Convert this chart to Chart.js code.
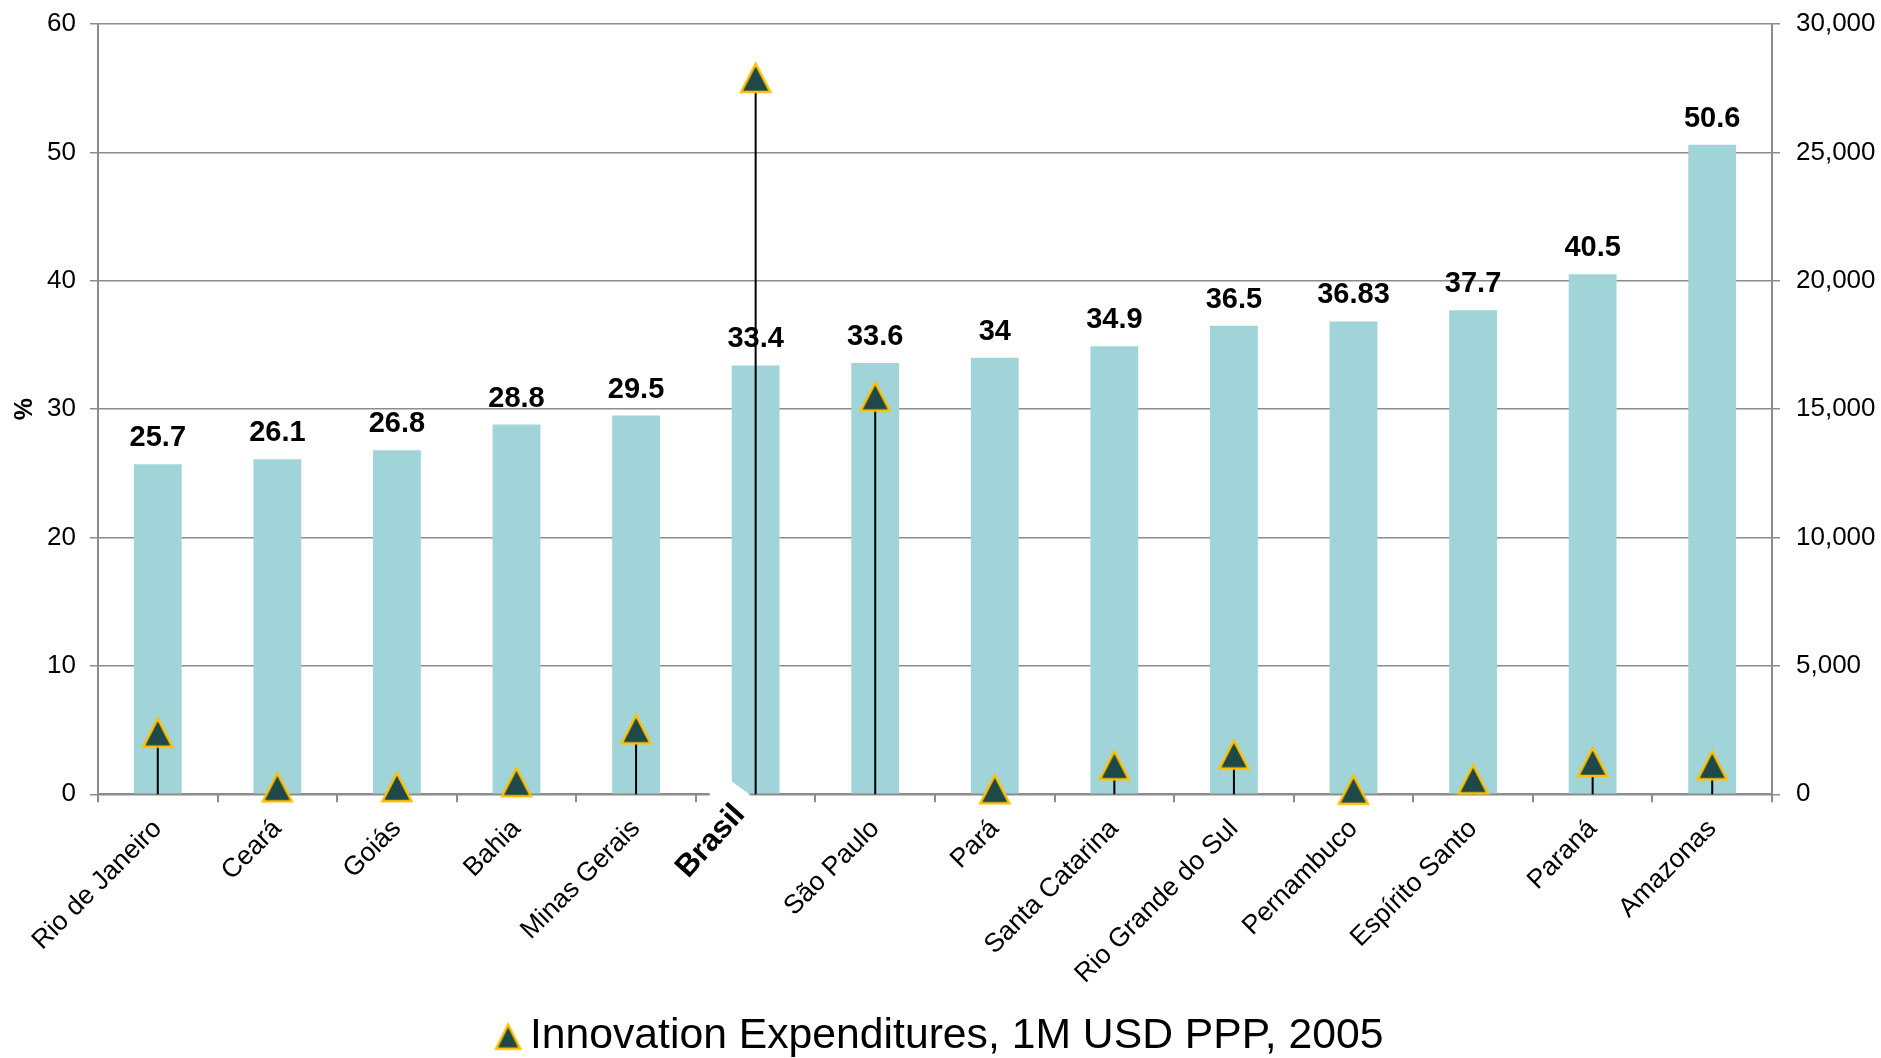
<!DOCTYPE html>
<html>
<head>
<meta charset="utf-8">
<script src="https://cdn.jsdelivr.net/npm/chart.js@4.4.0/dist/chart.umd.min.js"></script>
<style>
  html, body { margin: 0; padding: 0; background: #fff; }
  #wrap { width: 1881px; height: 1058px; }
</style>
</head>
<body>
<div id="wrap"><canvas id="chart" width="1881" height="1058"></canvas></div>
<script>
const states = ["Rio de Janeiro", "Ceará", "Goiás", "Bahia", "Minas Gerais", "Brasil", "São Paulo", "Pará",
  "Santa Catarina", "Rio Grande do Sul", "Pernambuco", "Espírito Santo", "Paraná", "Amazonas"]
const sharePct = [25.7, 26.1, 26.8, 28.8, 29.5, 33.4, 33.6, 34, 34.9, 36.5, 36.83, 37.7, 40.5, 50.6]
const innovationExp = [2400, 270, 280, 470, 2530, 27900, 15490, 195, 1130, 1550, 175, 585, 1260, 1130]
const legendText = "Innovation Expenditures, 1M USD PPP, 2005"

const FONT = '"Liberation Sans", Arial, sans-serif'
const GRID = '#8c8c8c'
const BAR = '#a1d4d8'
const TRI_FILL = '#1f4848'
const TRI_EDGE = '#ffc000'
const BRASIL = states.indexOf("Brasil")

// tall triangle marker (excel style), drawn once to a canvas
const makeTriangle = (w, h) => {
  const c = document.createElement('canvas')
  c.width = w + 4
  c.height = h + 4
  const ctx = c.getContext('2d')
  ctx.beginPath()
  ctx.moveTo(c.width / 2, 3)
  ctx.lineTo(c.width - 2.5, h + 1)
  ctx.lineTo(2.5, h + 1)
  ctx.closePath()
  ctx.fillStyle = TRI_FILL
  ctx.fill()
  ctx.lineWidth = 2.5
  ctx.strokeStyle = TRI_EDGE
  ctx.stroke()
  return c
}
const triMarker = makeTriangle(30, 30)
const triLegend = makeTriangle(25, 26)

// keep the value axes from pushing the plot area down
const fixAxis = (width) => (scale) => {
  scale.width = width
  scale.paddingTop = 8
  scale.paddingBottom = 8
}

const overlay = {
  id: 'overlay',
  beforeDatasetDraw(chart, args) {
    if (args.index !== 1) return
    const ctx = chart.ctx
    const bars = chart.getDatasetMeta(0).data
    const pts = chart.getDatasetMeta(1).data
    const zero = chart.scales.y1.getPixelForValue(0)
    ctx.save()

    // white patch that cuts the corner of the Brasil bar
    const b = bars[BRASIL]
    const left = b.x - b.width / 2
    ctx.fillStyle = '#fff'
    ctx.beginPath()
    ctx.moveTo(left - 22, b.base - 28)
    ctx.lineTo(left + 18, b.base + 1)
    ctx.lineTo(left + 18, b.base + 6)
    ctx.lineTo(left - 22, b.base + 6)
    ctx.closePath()
    ctx.fill()

    // value labels
    ctx.font = 'bold 29px ' + FONT
    ctx.fillStyle = '#000'
    ctx.textAlign = 'center'
    ctx.textBaseline = 'alphabetic'
    bars.forEach((bar, i) => ctx.fillText(String(sharePct[i]), bar.x, bar.y - 18))

    // stems from the markers down to zero
    ctx.strokeStyle = '#000'
    ctx.lineWidth = 2
    pts.forEach(p => {
      ctx.beginPath()
      ctx.moveTo(p.x, zero)
      ctx.lineTo(p.x, p.y)
      ctx.stroke()
    })
    ctx.restore()
  },
  afterDraw(chart) {
    // the "Brasil" category label sits a little higher and bolder than the others
    const ctx = chart.ctx
    const x = chart.scales.x
    ctx.save()
    ctx.translate(x.getPixelForTick(BRASIL) - 16, x.top + 15)
    ctx.rotate(-48 * Math.PI / 180)
    ctx.font = 'bold 31px ' + FONT
    ctx.fillStyle = '#000'
    ctx.textAlign = 'right'
    ctx.textBaseline = 'middle'
    ctx.fillText(states[BRASIL], 0, 0)
    ctx.restore()
  }
}

new Chart(document.getElementById('chart'), {
  type: 'bar',
  data: {
    labels: states,
    datasets: [
      {
        type: 'bar',
        label: '%',
        data: sharePct,
        backgroundColor: BAR,
        barPercentage: 0.4,
        categoryPercentage: 1.0,
        yAxisID: 'y',
        order: 1
      },
      {
        type: 'line',
        label: legendText,
        data: innovationExp,
        showLine: false,
        pointStyle: triMarker,
        backgroundColor: TRI_FILL,
        borderColor: TRI_EDGE,
        borderWidth: 2.5,
        yAxisID: 'y1',
        clip: false,
        order: 0
      }
    ]
  },
  options: {
    responsive: false,
    animation: false,
    events: [],
    layout: { padding: { top: 24, left: 10, right: 0, bottom: -10 } },
    plugins: {
      tooltip: { enabled: false },
      legend: {
        position: 'bottom',
        labels: {
          color: '#000',
          font: { family: FONT, size: 42.7 },
          usePointStyle: true,
          boxWidth: 1,
          boxHeight: 21,
          padding: 10,
          generateLabels: (chart) =>
            Chart.defaults.plugins.legend.labels.generateLabels(chart)
              .filter(item => item.datasetIndex === 1)
              .map(item => ({ ...item, pointStyle: triLegend }))
        }
      }
    },
    scales: {
      x: {
        offset: true,
        grid: { drawOnChartArea: false, drawTicks: true, tickLength: 8, color: GRID, lineWidth: 2, offset: true },
        border: { display: true, color: GRID, width: 2 },
        ticks: {
          autoSkip: false,
          maxRotation: 45,
          minRotation: 45,
          padding: 11,
          color: (ctx) => ctx.index === BRASIL ? 'rgba(0,0,0,0)' : '#000',
          font: { family: FONT, size: 26.5 }
        },
        afterFit: (scale) => { scale.height = 211 }
      },
      y: {
        position: 'left',
        min: 0,
        max: 60,
        ticks: { stepSize: 10, color: '#000', padding: 14, font: { family: FONT, size: 26 } },
        grid: { color: GRID, lineWidth: 1.5, tickLength: 8 },
        border: { color: GRID, width: 2 },
        title: { display: true, text: '%', color: '#000', padding: { top: 0, bottom: 0 }, font: { family: FONT, size: 25, weight: 'bold' } },
        afterFit: fixAxis(88)
      },
      y1: {
        position: 'right',
        min: 0,
        max: 30000,
        ticks: {
          stepSize: 5000,
          color: '#000',
          padding: 16,
          font: { family: FONT, size: 26 },
          callback: (v) => v.toLocaleString('en-US')
        },
        grid: { drawOnChartArea: false, color: GRID, lineWidth: 1.5, tickLength: 8 },
        border: { color: GRID, width: 2 },
        afterFit: fixAxis(109)
      }
    }
  },
  plugins: [overlay]
})
</script>
</body>
</html>
